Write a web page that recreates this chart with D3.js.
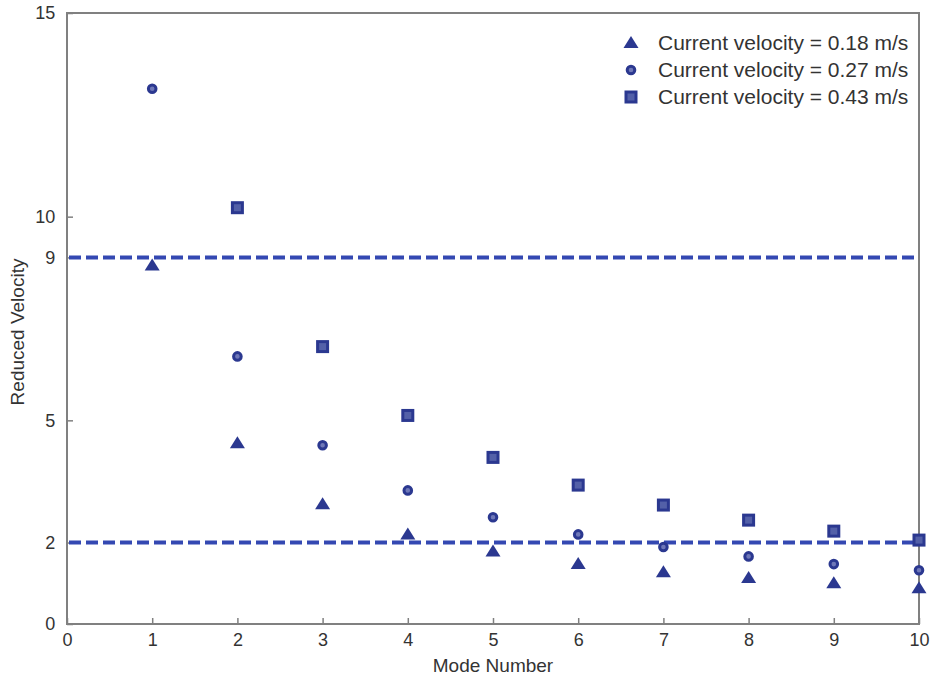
<!DOCTYPE html>
<html>
<head>
<meta charset="utf-8">
<script src="https://cdn.jsdelivr.net/npm/d3@7"></script>
<style>
  body { margin: 0; background: #fff; }
  text { font-family: 'Liberation Sans', Arial, sans-serif; fill: #333; }
</style>
</head>
<body>
<svg id="chart" width="931" height="680"></svg>
<script>
// mode numbers and reduced velocity per current speed
const modes = [1, 2, 3, 4, 5, 6, 7, 8, 9, 10];
const v018 = [8.8, 4.44, 2.94, 2.2, 1.78, 1.47, 1.27, 1.13, 1.0, 0.88];
const v027 = [13.14, 6.57, 4.39, 3.28, 2.62, 2.2, 1.89, 1.66, 1.47, 1.32];
const v043 = [null, 10.22, 6.81, 5.12, 4.09, 3.41, 2.92, 2.55, 2.28, 2.06];
const xTicks = [0, 1, 2, 3, 4, 5, 6, 7, 8, 9, 10];
const yTicks = [0, 2, 5, 9, 10, 15];
const limits = [2, 9];

const series = [
  { name: 'Current velocity = 0.18 m/s', shape: 'tri', values: v018 },
  { name: 'Current velocity = 0.27 m/s', shape: 'circle', values: v027 },
  { name: 'Current velocity = 0.43 m/s', shape: 'square', values: v043 },
];

const markColor = '#2b3890';
const lineColor = '#3448b2';
const axisColor = '#808080';

const svg = d3.select('#chart');
const m = { left: 67, right: 919, top: 13, bottom: 624 };

const x = d3.scaleLinear().domain([0, 10]).range([m.left, m.right]);
const y = d3.scaleLinear().domain([0, 15]).range([m.bottom, m.top]);

// frame
svg.append('rect')
  .attr('x', m.left).attr('y', m.top)
  .attr('width', m.right - m.left).attr('height', m.bottom - m.top)
  .attr('fill', 'none').attr('stroke', axisColor).attr('stroke-width', 2);

const xAxis = svg.append('g')
  .attr('transform', `translate(0, ${m.bottom})`)
  .call(d3.axisBottom(x).tickValues(xTicks).tickSizeInner(-6).tickSizeOuter(0).tickPadding(8));
const yAxis = svg.append('g')
  .attr('transform', `translate(${m.left}, 0)`)
  .call(d3.axisLeft(y).tickValues(yTicks).tickSizeInner(-6).tickSizeOuter(0).tickPadding(10));

[xAxis, yAxis].forEach(g => {
  g.select('.domain').remove();
  g.selectAll('.tick line').attr('stroke', axisColor).attr('stroke-width', 1.5);
  g.selectAll('.tick text')
    .attr('fill', '#333')
    .style('font-size', '18px')
    .style('font-family', "'Liberation Sans', Arial, sans-serif");
});
xAxis.selectAll('.tick text').attr('dy', '0.8em');
yAxis.selectAll('.tick text').attr('dx', '-0.1em');

// dashed limits
svg.selectAll('.limit')
  .data(limits)
  .enter().append('line')
  .attr('class', 'limit')
  .attr('x1', m.left + 2).attr('x2', m.right)
  .attr('y1', d => y(d)).attr('y2', d => y(d))
  .attr('stroke', lineColor)
  .attr('stroke-width', 4)
  .attr('stroke-dasharray', '12,5');

const drawMark = (sel, shape) => {
  if (shape === 'tri') {
    sel.append('path')
      .attr('d', 'M0,-7L7.5,5L-7.5,5Z')
      .attr('fill', markColor);
  } else if (shape === 'circle') {
    sel.append('circle')
      .attr('r', 3.8)
      .attr('fill', '#6f78b8')
      .attr('stroke', markColor)
      .attr('stroke-width', 3);
  } else {
    sel.append('rect')
      .attr('x', -5).attr('y', -5)
      .attr('width', 10).attr('height', 10)
      .attr('fill', '#5360a8')
      .attr('stroke', markColor)
      .attr('stroke-width', 3);
  }
};

series.forEach(s => {
  const pts = modes.map((mo, i) => ({ x: mo, y: s.values[i] })).filter(d => d.y != null);
  svg.append('g').selectAll('g')
    .data(pts)
    .enter().append('g')
    .attr('transform', d => `translate(${x(d.x)}, ${y(d.y)})`)
    .each(function () { drawMark(d3.select(this), s.shape); });
});

// legend
const legend = svg.append('g').attr('transform', 'translate(631, 43)');
series.forEach((s, i) => {
  const row = legend.append('g').attr('transform', `translate(0, ${i * 27})`);
  drawMark(row, s.shape);
  row.append('text')
    .attr('x', 27).attr('y', 0).attr('dy', '0.35em')
    .style('font-size', '21px')
    .text(s.name);
});

// axis titles
svg.append('text')
  .attr('x', (m.left + m.right) / 2).attr('y', 672)
  .attr('text-anchor', 'middle')
  .style('font-size', '19px')
  .text('Mode Number');

svg.append('text')
  .attr('transform', 'translate(24, 332) rotate(-90)')
  .attr('text-anchor', 'middle')
  .style('font-size', '19px')
  .text('Reduced Velocity');
</script>
</body>
</html>
